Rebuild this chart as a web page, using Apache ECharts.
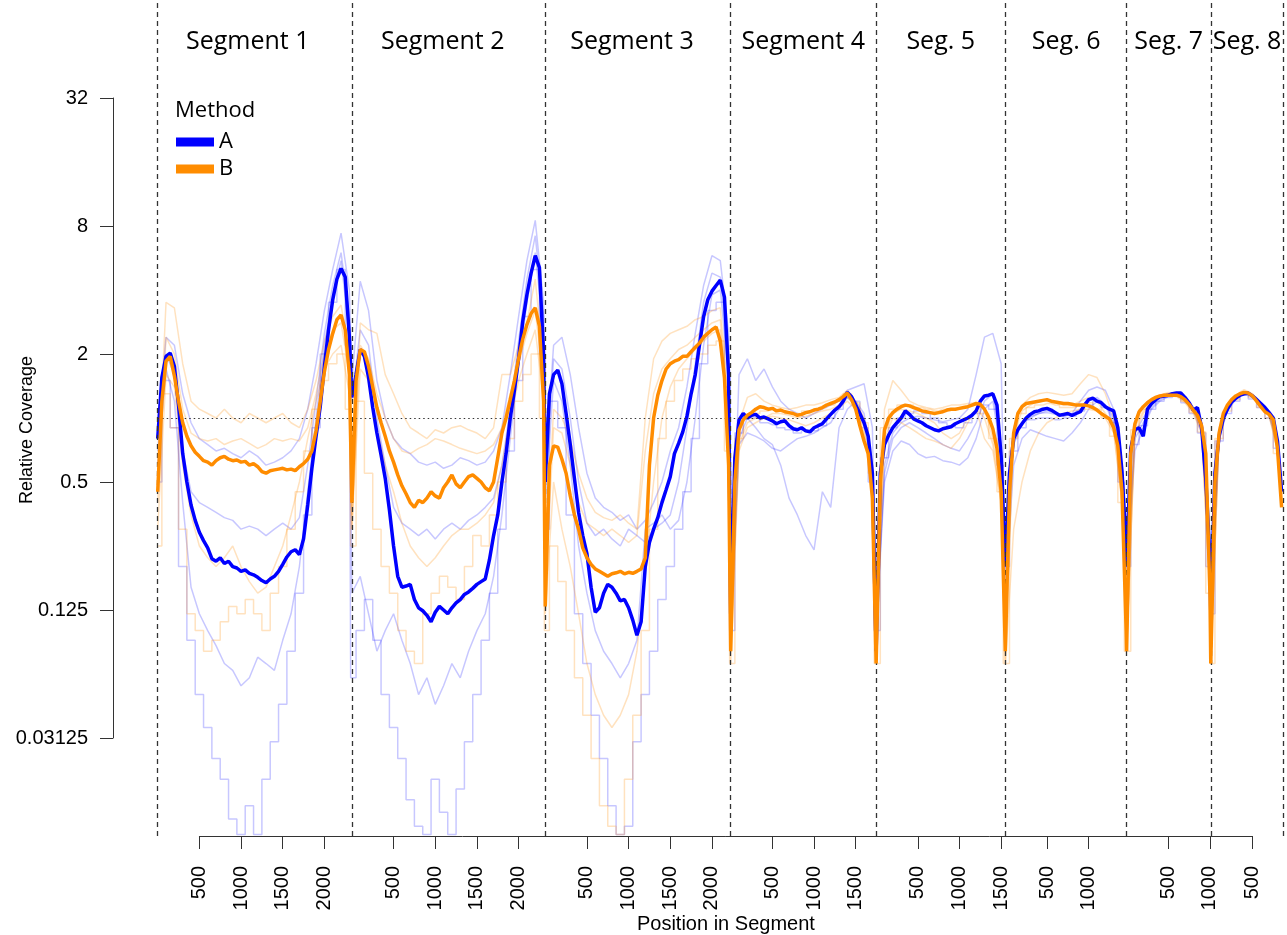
<!DOCTYPE html>
<html><head><meta charset="utf-8">
<script src="https://cdn.jsdelivr.net/npm/echarts@6/dist/echarts.min.js"></script>
<style>html,body{margin:0;padding:0;background:#fff}#c{width:1287px;height:935px}</style>
</head><body><div id="c"></div>
<script>
// ---------------- DATA ----------------
const segNames = ['Segment 1','Segment 2','Segment 3','Segment 4','Seg. 5','Seg. 6','Seg. 7','Seg. 8'];
const segLengths = [2330, 2320, 2225, 1745, 1550, 1455, 1010, 875];
const segLabelNt = [1080, 1090, 1040, 870, 775, 730, 505, 435]; // where each segment title sits (nt within segment)
const segTicks = [[500,1000,1500,2000],[500,1000,1500,2000],[500,1000,1500,2000],[500,1000,1500],[500,1000,1500],[500,1000],[500,1000],[500]];
const yTickValues = [0.03125, 0.125, 0.5, 2, 8, 32];
const yTickLabels = ['0.03125', '0.125', '0.5', '2', '8', '32'];
const methodNames = ['A', 'B'];
const mainStep = 50;   // nt between samples of the bold lines
const faintStep = 100; // nt between samples of the faint (per-sample) lines

// Method A (bold blue), one array per segment, every 50 nt
const covA = [
  [0.8,1.55,1.95,2.02,1.75,1.15,0.68,0.5,0.39,0.33, 0.29,0.265,0.245,0.218,0.212,0.22,0.207,0.212,0.2,0.197, 0.19,0.193,0.186,0.183,0.178,0.172,0.168,0.175,0.18,0.19, 0.205,0.222,0.235,0.24,0.228,0.27,0.39,0.58,0.82,1.13, 1.75,2.6,3.6,4.5,5.05,4.6,2.4],
  [1.25,1.6,2.1,1.95,1.55,1.12,0.85,0.67,0.52,0.37, 0.25,0.18,0.16,0.162,0.165,0.14,0.128,0.124,0.118,0.11, 0.122,0.13,0.125,0.12,0.128,0.135,0.14,0.148,0.152,0.158, 0.165,0.17,0.175,0.215,0.28,0.35,0.5,0.68,1.0,1.35, 1.9,2.85,3.8,4.8,5.8,5.1,2.0],
  [0.5,1.3,1.6,1.68,1.45,1.05,0.75,0.52,0.36,0.28, 0.23,0.16,0.122,0.128,0.15,0.165,0.16,0.15,0.138,0.14, 0.128,0.112,0.095,0.11,0.2,0.26,0.3,0.34,0.4,0.46, 0.53,0.68,0.76,0.86,1.02,1.3,1.6,2.2,3.0,3.6, 3.95,4.2,4.45,3.7,1.6],
  [0.12,0.65,0.98,1.05,1.0,1.03,1.04,1.0,1.01,0.99, 0.97,0.94,0.96,0.97,0.92,0.89,0.88,0.9,0.87,0.86, 0.9,0.92,0.94,0.99,1.04,1.09,1.13,1.2,1.32,1.26, 1.15,1.05,0.95,0.82,0.55],
  [0.08,0.55,0.75,0.83,0.9,0.95,1.0,1.08,1.04,0.99, 0.97,0.95,0.92,0.9,0.88,0.87,0.89,0.9,0.91,0.94, 0.96,0.98,1.0,1.03,1.08,1.2,1.27,1.28,1.3,1.15, 0.66],
  [0.2,0.55,0.8,0.88,0.94,1.0,1.04,1.07,1.08,1.1, 1.11,1.09,1.06,1.03,1.04,1.05,1.03,1.05,1.07,1.15, 1.22,1.24,1.2,1.18,1.13,1.1,1.08,0.9,0.56,0.25],
  [0.2,0.72,0.88,0.9,0.82,1.1,1.17,1.22,1.26,1.27, 1.28,1.3,1.31,1.31,1.25,1.18,1.09,1.12,0.9,0.52, 0.22],
  [0.12,0.55,0.82,1.0,1.1,1.19,1.24,1.28,1.3,1.31, 1.27,1.22,1.17,1.12,1.06,1.0,0.78,0.45]
];
// Method B (bold orange), every 50 nt
const covB = [
  [0.45,1.2,1.85,1.95,1.58,1.2,0.95,0.82,0.74,0.69, 0.66,0.63,0.62,0.6,0.63,0.65,0.66,0.64,0.63,0.635, 0.62,0.625,0.6,0.61,0.59,0.56,0.55,0.565,0.57,0.575, 0.58,0.57,0.575,0.565,0.59,0.61,0.64,0.7,0.87,1.2, 1.65,2.1,2.5,2.9,3.05,2.6,1.6],
  [0.4,1.5,2.1,2.05,1.75,1.4,1.12,0.95,0.82,0.7, 0.62,0.54,0.48,0.44,0.4,0.38,0.41,0.4,0.42,0.45, 0.43,0.42,0.47,0.5,0.54,0.49,0.47,0.5,0.53,0.54, 0.52,0.5,0.47,0.455,0.5,0.65,0.85,1.0,1.22,1.5, 1.9,2.35,2.75,3.1,3.3,2.7,1.2],
  [0.13,0.6,0.74,0.73,0.64,0.55,0.43,0.35,0.3,0.245, 0.22,0.205,0.195,0.19,0.185,0.18,0.185,0.187,0.19,0.185, 0.188,0.186,0.19,0.195,0.22,0.6,1.0,1.28,1.5,1.7, 1.8,1.85,1.88,1.95,1.95,2.05,2.15,2.25,2.4,2.5, 2.6,2.68,2.3,1.55,0.6],
  [0.08,0.5,0.88,0.98,1.03,1.06,1.1,1.13,1.12,1.1, 1.11,1.08,1.09,1.07,1.06,1.05,1.03,1.04,1.06,1.07, 1.09,1.1,1.12,1.15,1.17,1.19,1.22,1.26,1.31,1.22, 1.1,0.92,0.78,0.68,0.42],
  [0.07,0.5,0.88,1.0,1.06,1.1,1.13,1.15,1.14,1.12, 1.1,1.08,1.07,1.06,1.05,1.06,1.07,1.09,1.1,1.1, 1.11,1.12,1.13,1.15,1.17,1.16,1.1,1.01,0.89,0.72, 0.45],
  [0.08,0.45,0.85,1.05,1.13,1.17,1.18,1.19,1.2,1.21, 1.22,1.2,1.19,1.18,1.17,1.17,1.16,1.15,1.15,1.15, 1.14,1.12,1.09,1.05,1.02,0.99,0.9,0.74,0.45,0.1],
  [0.08,0.68,0.94,1.07,1.13,1.18,1.22,1.25,1.27,1.28, 1.28,1.28,1.28,1.26,1.22,1.16,1.09,1.03,0.92,0.68, 0.15],
  [0.07,0.5,0.85,1.05,1.15,1.22,1.27,1.3,1.32,1.31, 1.27,1.2,1.13,1.07,1.04,0.98,0.72,0.38]
];

// Individual samples (faint lines), every 100 nt
const faintA1 = [
  [0.9,2.4,2.2,1.3,0.95,0.8,0.75,0.7,0.72,0.68,0.65,0.7,0.66,0.6,0.62,0.65,0.7,0.8,1.1,1.8,3.2,5.0,7.4,4.0],
  [1.5,4.4,3.2,1.5,1.0,0.8,0.72,0.68,0.62,0.6,0.62,0.58,0.6,0.65,0.63,0.6,0.62,0.7,0.9,1.6,3.0,5.5,8.5,3.5],
  [0.6,2.2,2.4,1.6,0.9,0.55,0.42,0.38,0.36,0.33,0.35,0.3,0.33,0.4,0.5,0.7,0.9,1.4,2.5,4.2,5.8,5.5,2.5],
  [0.12,1.6,1.9,1.5,1.7,1.4,1.2,1.1,1.05,1.0,1.05,1.1,1.15,1.2,1.35,1.4,1.45,0.9],
  [0.1,0.6,0.85,0.95,1.0,1.02,1.0,0.98,0.96,0.98,1.0,1.1,1.6,2.4,2.5,1.8],
  [0.2,0.8,0.95,1.0,1.05,1.08,1.05,1.02,1.05,1.2,1.35,1.4,1.35,1.1,0.55],
  [0.2,0.85,1.0,1.15,1.25,1.3,1.32,1.25,1.12,0.95,0.25],
  [0.12,0.85,1.12,1.25,1.33,1.28,1.18,1.05,0.8]
];
const faintA2 = [
  [0.7,2.0,1.6,0.7,0.45,0.4,0.38,0.36,0.34,0.33,0.3,0.31,0.3,0.28,0.3,0.32,0.3,0.34,0.6,1.2,2.5,4.2,6.0,3.0],
  [1.2,2.6,2.2,1.0,0.6,0.38,0.32,0.3,0.28,0.3,0.27,0.3,0.32,0.3,0.33,0.35,0.38,0.42,0.6,1.1,2.3,4.5,7.2,3.0],
  [0.5,1.9,1.7,1.0,0.5,0.32,0.28,0.3,0.27,0.25,0.3,0.28,0.26,0.3,0.32,0.35,0.5,0.9,1.8,3.5,4.8,4.6,2.0],
  [0.1,0.8,1.0,0.9,0.8,0.75,0.6,0.42,0.35,0.28,0.24,0.45,0.38,0.9,1.1,1.2,1.05,0.6],
  [0.1,0.5,0.7,0.78,0.75,0.68,0.65,0.66,0.63,0.62,0.6,0.65,0.8,1.1,1.2,0.7],
  [0.15,0.6,0.8,0.88,0.85,0.82,0.8,0.78,0.85,0.95,1.1,1.2,1.15,0.95,0.5],
  [0.18,0.7,0.9,1.1,1.2,1.26,1.28,1.2,1.08,0.85,0.2],
  [0.12,0.8,1.08,1.22,1.3,1.25,1.15,1.02,0.75]
];
const faintA3 = [
  [0.6,1.7,1.2,0.4,0.16,0.12,0.1,0.085,0.07,0.065,0.055,0.06,0.075,0.07,0.065,0.09,0.12,0.2,0.45,1.0,2.2,3.8,5.5,2.5],
  [0.15,0.18,0.12,0.08,0.1,0.12,0.09,0.07,0.05,0.06,0.045,0.055,0.07,0.06,0.08,0.1,0.12,0.18,0.35,0.8,1.8,3.5,6.0,2.5],
  [0.4,1.5,1.2,0.6,0.25,0.15,0.1,0.08,0.07,0.06,0.07,0.09,0.3,0.32,0.35,0.3,0.33,0.5,1.0,2.2,3.8,4.0,1.6],
  [0.1,0.75,0.85,0.82,0.78,0.72,0.7,0.75,0.8,0.82,0.85,0.9,0.95,1.1,1.25,1.15,0.95,0.55],
  [0.1,0.55,0.8,0.9,0.95,0.9,0.85,0.8,0.75,0.72,0.7,0.8,0.95,1.2,1.3,0.75],
  [0.18,0.75,0.95,1.02,1.05,1.06,1.04,1.02,1.04,1.1,1.2,1.25,1.15,1.0,0.5],
  [0.2,0.8,0.95,1.12,1.22,1.28,1.3,1.22,1.1,0.9,0.22],
  [0.12,0.82,1.1,1.24,1.32,1.27,1.17,1.04,0.78]
];
const faintA4 = [
  [0.5,1.5,0.9,0.2,0.09,0.05,0.035,0.025,0.02,0.013,0.011,0.015,0.011,0.02,0.03,0.045,0.08,0.15,0.35,0.9,2.0,3.5,5.0,2.2],
  [0.06,0.1,0.14,0.09,0.05,0.035,0.025,0.016,0.012,0.011,0.02,0.014,0.011,0.018,0.03,0.05,0.09,0.15,0.3,0.7,1.5,3.0,5.0,2.0],
  [0.3,1.2,0.9,0.35,0.12,0.07,0.04,0.025,0.015,0.011,0.012,0.03,0.05,0.08,0.14,0.2,0.3,0.45,0.8,1.8,3.2,3.5,1.4],
  [0.1,0.85,1.0,1.0,0.95,0.93,0.9,0.88,0.85,0.88,0.87,0.92,1.0,1.1,1.25,1.2,0.9,0.5],
  [0.1,0.65,0.9,1.0,1.05,1.08,1.05,1.0,0.95,0.92,0.9,0.95,1.05,1.15,1.1,0.6],
  [0.2,0.7,0.9,0.98,1.0,1.0,0.98,1.0,1.02,1.08,1.15,1.2,1.12,0.95,0.5],
  [0.2,0.75,0.92,1.1,1.2,1.25,1.28,1.18,1.05,0.85,0.2],
  [0.12,0.78,1.05,1.2,1.28,1.23,1.12,1.0,0.72]
];
const faintB1 = [
  [0.5,3.5,3.3,1.8,1.2,1.1,1.05,1.0,1.1,1.0,0.95,1.05,1.0,0.95,1.0,1.05,0.95,0.9,1.1,1.5,2.3,3.0,3.4,2.0],
  [0.3,2.8,2.6,2.5,1.6,1.3,1.05,0.9,0.85,0.8,0.88,0.85,0.9,0.92,0.88,0.85,0.8,0.9,1.6,1.6,2.2,2.8,4.5,1.8],
  [0.2,1.1,1.0,0.8,0.55,0.42,0.36,0.34,0.33,0.35,0.32,0.3,1.0,1.9,2.3,2.5,2.6,2.7,2.9,3.0,3.2,3.3,1.2],
  [0.08,0.95,1.25,1.3,1.2,1.15,1.12,1.1,1.12,1.15,1.15,1.18,1.22,1.25,1.35,1.2,1.0,0.6],
  [0.08,1.1,1.5,1.35,1.2,1.15,1.12,1.1,1.12,1.15,1.15,1.17,1.18,1.1,0.8,0.45],
  [0.08,0.9,1.15,1.25,1.3,1.32,1.3,1.28,1.3,1.45,1.6,1.55,1.3,1.0,0.45],
  [0.08,0.95,1.12,1.22,1.28,1.32,1.3,1.22,1.1,0.9,0.15],
  [0.07,0.9,1.15,1.28,1.36,1.3,1.18,1.05,0.75]
];
const faintB2 = [
  [0.4,2.4,2.0,1.1,0.85,0.8,0.78,0.8,0.75,0.78,0.8,0.76,0.72,0.75,0.8,0.78,0.8,0.78,0.9,1.3,2.0,2.6,2.8,1.6],
  [0.35,2.2,1.9,1.3,1.0,0.8,0.7,0.68,0.72,0.75,0.8,0.78,0.75,0.72,0.7,0.68,0.7,0.75,0.9,1.3,1.8,2.5,3.2,1.5],
  [0.15,0.9,0.85,0.6,0.4,0.32,0.3,0.28,0.3,0.28,0.26,0.28,0.7,1.3,1.7,1.9,2.1,2.2,2.4,2.6,2.8,2.9,1.0],
  [0.08,0.75,0.95,1.0,1.0,1.02,1.0,0.98,0.95,0.92,0.95,1.0,1.05,1.12,1.2,1.1,0.85,0.45],
  [0.08,0.8,1.0,0.95,0.9,0.85,0.8,0.78,0.75,0.72,0.8,0.95,1.1,1.0,0.75,0.4],
  [0.07,0.3,0.5,0.7,0.85,0.95,1.0,1.05,1.08,1.1,1.1,1.08,1.0,0.85,0.4],
  [0.08,0.85,1.05,1.18,1.25,1.28,1.26,1.18,1.05,0.85,0.15],
  [0.07,0.82,1.1,1.25,1.32,1.27,1.14,1.02,0.7]
];
const faintB3 = [
  [0.3,1.6,1.4,0.6,0.35,0.25,0.22,0.2,0.22,0.25,0.2,0.17,0.15,0.16,0.2,0.25,0.35,0.5,0.8,1.2,1.7,2.0,2.2,1.3],
  [0.3,1.7,1.5,0.9,0.6,0.45,0.32,0.25,0.22,0.2,0.22,0.25,0.28,0.3,0.3,0.32,0.35,0.4,0.6,1.0,1.5,2.0,2.6,1.2],
  [0.12,0.5,0.3,0.2,0.12,0.07,0.05,0.04,0.035,0.04,0.05,0.08,0.2,0.5,1.0,1.4,1.7,1.9,2.1,2.3,2.5,2.6,0.9],
  [0.07,0.7,0.9,0.95,1.0,1.05,1.05,1.03,1.0,1.02,1.05,1.08,1.1,1.15,1.25,1.15,0.9,0.5],
  [0.08,0.85,1.05,1.1,1.08,1.05,1.0,0.95,0.85,0.8,0.85,1.0,1.1,0.8,0.7,0.4],
  [0.07,0.85,1.08,1.15,1.2,1.2,1.18,1.15,1.15,1.2,1.25,1.2,1.05,0.9,0.4],
  [0.08,0.9,1.08,1.2,1.26,1.3,1.28,1.2,1.08,0.88,0.15],
  [0.07,0.85,1.12,1.26,1.33,1.28,1.15,1.03,0.72]
];
const faintB4 = [
  [0.25,1.3,0.9,0.3,0.12,0.1,0.08,0.09,0.11,0.13,0.12,0.14,0.12,0.1,0.15,0.2,0.3,0.45,0.7,1.1,1.5,1.8,2.0,1.1],
  [0.25,1.2,0.55,0.3,0.2,0.15,0.1,0.08,0.07,0.12,0.15,0.18,0.16,0.14,0.2,0.28,0.25,0.35,0.5,0.8,1.2,1.6,2.0,1.0],
  [0.1,0.25,0.17,0.1,0.06,0.04,0.025,0.015,0.012,0.011,0.02,0.04,0.1,0.3,0.8,1.2,1.5,1.7,1.9,2.0,2.2,2.3,0.7],
  [0.07,0.8,1.0,1.05,1.08,1.1,1.08,1.05,1.05,1.08,1.1,1.12,1.15,1.2,1.3,1.18,0.95,0.55],
  [0.07,0.9,1.1,1.15,1.15,1.12,1.1,1.08,1.1,1.1,1.12,1.14,1.15,1.05,0.8,0.45],
  [0.07,0.8,1.05,1.12,1.15,1.17,1.15,1.12,1.12,1.15,1.18,1.1,1.0,0.82,0.4],
  [0.08,0.88,1.1,1.2,1.27,1.3,1.27,1.2,1.06,0.86,0.15],
  [0.07,0.8,1.08,1.22,1.3,1.25,1.12,1.0,0.68]
];

// ---------------- BUILD ----------------
const offsets = [];
let acc = 0;
segLengths.forEach(L => { offsets.push(acc); acc += L; });
const total = acc;

function toPoints(segs, step) {
  const pts = [];
  segs.forEach((arr, s) => arr.forEach((v, i) => pts.push([offsets[s] + i * step, v])));
  return pts;
}
function nearestIdx(arr, v) {
  let b = 0, d = Infinity;
  arr.forEach((a, i) => { const dd = Math.abs(a - v); if (dd < d) { d = dd; b = i; } });
  return b;
}
const xTickPos = [], xTickText = [];
segTicks.forEach((ticks, s) => ticks.forEach(t => { xTickPos.push(offsets[s] + t); xTickText.push(String(t)); }));
const segLabelPos = segLabelNt.map((p, s) => offsets[s] + p);
const yTickLogs = yTickValues.map(v => Math.log(v));

// layout (pixels)
const PLOT_LEFT = 157.7, PLOT_W = 1126, PLOT_TOP = 0, PLOT_H = 836;
const Y_ONE = 418, PX_PER_DOUBLING = 64;
const yMin = Math.pow(2, (Y_ONE - (PLOT_TOP + PLOT_H)) / PX_PER_DOUBLING);
const yMax = Math.pow(2, (Y_ONE - PLOT_TOP) / PX_PER_DOUBLING);
const pxPerNt = PLOT_W / total;
const xAxLeft = PLOT_LEFT + xTickPos[0] * pxPerNt;
const xAxW = (xTickPos[xTickPos.length - 1] - xTickPos[0]) * pxPerNt;
const yAxTop = Y_ONE - Math.log2(yTickValues[yTickValues.length - 1]) * PX_PER_DOUBLING;
const yAxH = (Math.log2(yTickValues[yTickValues.length - 1]) - Math.log2(yTickValues[0])) * PX_PER_DOUBLING;

const BLUE = '#0000ff', ORANGE = '#ff8c00';
const FAINT_BLUE = 'rgba(0,0,255,0.22)', FAINT_ORANGE = 'rgba(255,140,0,0.25)';
const AXIS_FONT = 'Liberation Sans, Arial, sans-serif';
const TITLE_FONT = 'Open Sans, sans-serif';

function faintSeries(name, segs, color, step) {
  return {
    name: name, type: 'line', xAxisIndex: 0, yAxisIndex: 0,
    data: toPoints(segs, faintStep), showSymbol: false, symbol: 'none', silent: true,
    step: step || false,
    lineStyle: { color: color, width: 1.5 }, itemStyle: { color: color }, z: 2
  };
}

const vLines = offsets.concat([total]).map(x => ({
  xAxis: x, lineStyle: { type: [5, 4], color: '#333', width: 1.3 }
}));
vLines.push({ yAxis: 1, lineStyle: { type: [1.5, 3], color: '#333', width: 1.2 } });

const series = [
  faintSeries('a1', faintA1, FAINT_BLUE),
  faintSeries('a2', faintA2, FAINT_BLUE),
  faintSeries('a3', faintA3, FAINT_BLUE),
  faintSeries('a4', faintA4, FAINT_BLUE, 'middle'),
  faintSeries('b1', faintB1, FAINT_ORANGE),
  faintSeries('b2', faintB2, FAINT_ORANGE),
  faintSeries('b3', faintB3, FAINT_ORANGE),
  faintSeries('b4', faintB4, FAINT_ORANGE, 'middle'),
  {
    name: methodNames[0], type: 'line', xAxisIndex: 0, yAxisIndex: 0,
    data: toPoints(covA, mainStep), showSymbol: false, symbol: 'none', clip: false,
    color: BLUE, lineStyle: { color: BLUE, width: 3.5 }, itemStyle: { color: BLUE }, z: 4,
    markLine: { silent: true, symbol: ['none', 'none'], label: { show: false }, animation: false, data: vLines }
  },
  {
    name: methodNames[1], type: 'line', xAxisIndex: 0, yAxisIndex: 0,
    data: toPoints(covB, mainStep), showSymbol: false, symbol: 'none',
    color: ORANGE, lineStyle: { color: ORANGE, width: 3.5 }, itemStyle: { color: ORANGE }, z: 5
  }
];

const option = {
  animation: false,
  backgroundColor: '#ffffff',
  title: [{
    text: 'Method', left: 175, top: 100, padding: 0,
    textStyle: { fontSize: 22, fontWeight: 'normal', fontFamily: TITLE_FONT, color: '#000' }
  }],
  legend: {
    data: methodNames, orient: 'vertical', left: 176, top: 131, padding: 0,
    icon: 'rect', itemWidth: 38, itemHeight: 9, itemGap: 5, selectedMode: false,
    textStyle: { fontSize: 22, fontFamily: TITLE_FONT, color: '#000' }
  },
  grid: [
    { left: PLOT_LEFT, top: PLOT_TOP, width: PLOT_W, height: PLOT_H, outerBoundsMode: 'none' },
    { left: 113, top: yAxTop, width: 20, height: yAxH, outerBoundsMode: 'none' },
    { left: xAxLeft, top: PLOT_TOP + PLOT_H - 40, width: xAxW, height: 40, outerBoundsMode: 'none' }
  ],
  xAxis: [
    { gridIndex: 0, type: 'value', min: 0, max: total, show: false },
    {
      gridIndex: 0, type: 'value', min: 0, max: total, position: 'top',
      axisLine: { show: false }, axisTick: { show: false }, splitLine: { show: false },
      axisLabel: {
        inside: true, margin: 29, customValues: segLabelPos,
        formatter: v => segNames[nearestIdx(segLabelPos, v)],
        fontSize: 25, fontFamily: TITLE_FONT, color: '#000'
      }
    },
    { gridIndex: 1, type: 'value', min: 0, max: 1, show: false },
    {
      gridIndex: 2, type: 'value', min: xTickPos[0], max: xTickPos[xTickPos.length - 1], position: 'bottom',
      axisLine: { show: true, onZero: false, lineStyle: { color: '#333', width: 1 } },
      axisTick: { show: true, length: 13, customValues: xTickPos, lineStyle: { color: '#333', width: 1 } },
      axisLabel: {
        customValues: xTickPos, rotate: 90, margin: 30,
        formatter: v => xTickText[nearestIdx(xTickPos, v)],
        fontSize: 20, fontFamily: AXIS_FONT, color: '#000'
      },
      splitLine: { show: false },
      name: 'Position in Segment', nameLocation: 'middle', nameGap: 74,
      nameTextStyle: { fontSize: 20, fontFamily: AXIS_FONT, color: '#000' }
    }
  ],
  yAxis: [
    { gridIndex: 0, type: 'log', logBase: 2, min: yMin, max: yMax, show: false },
    {
      gridIndex: 1, type: 'log', logBase: 2, min: yTickValues[0], max: yTickValues[yTickValues.length - 1],
      position: 'left',
      axisLine: { show: true, onZero: false, lineStyle: { color: '#333', width: 1 } },
      axisTick: { show: true, length: 13, customValues: yTickValues, lineStyle: { color: '#333', width: 1 } },
      axisLabel: {
        customValues: yTickValues, margin: 25,
        formatter: v => yTickLabels[nearestIdx(yTickLogs, Math.log(v))],
        fontSize: 20, fontFamily: AXIS_FONT, color: '#000'
      },
      splitLine: { show: false },
      name: 'Relative Coverage', nameLocation: 'middle', nameGap: 77, nameMoveOverlap: false,
      nameTextStyle: { fontSize: 18, fontFamily: AXIS_FONT, color: '#000', padding: [0, 24, 0, 0] }
    },
    { gridIndex: 2, type: 'value', min: 0, max: 1, show: false }
  ],
  series: series
};

const chart = echarts.init(document.getElementById('c'), null, { renderer: 'canvas' });
chart.setOption(option);
</script>
</body></html>
